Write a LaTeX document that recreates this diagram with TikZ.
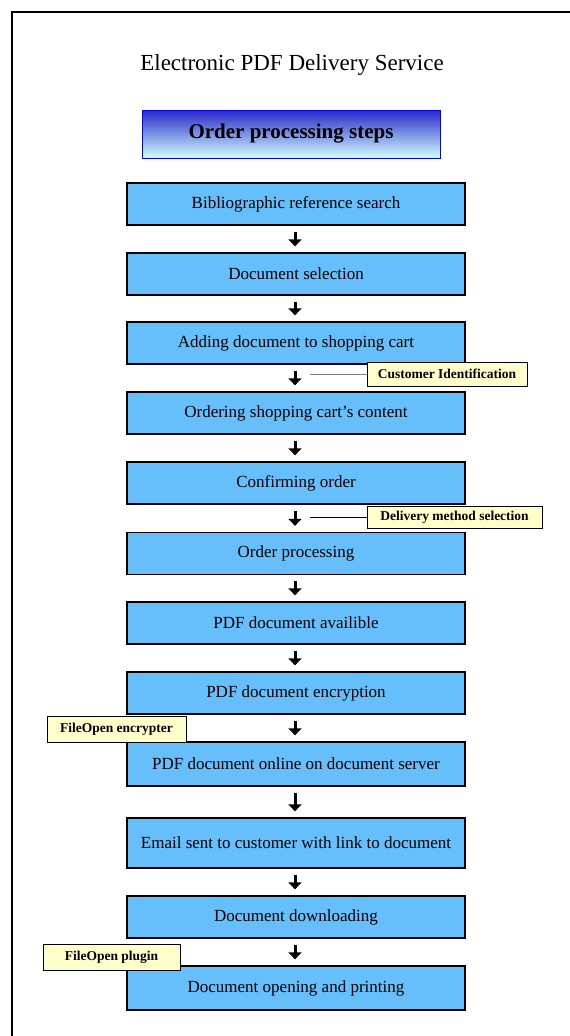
\documentclass[tikz,border=0pt]{standalone}
\usepackage{fontspec}
\setmainfont{Liberation Serif}
\usetikzlibrary{arrows.meta}
\definecolor{stepblue}{RGB}{102,190,250}
\definecolor{noteyellow}{RGB}{255,255,204}
\definecolor{hdrtop}{RGB}{40,40,200}
\definecolor{hdrbot}{RGB}{210,255,255}
\tikzset{
  stepbox/.style={draw=black, line width=1.3pt, fill=stepblue, minimum width=338pt, minimum height=42pt, inner sep=0pt, font=\fontsize{17}{20}\selectfont},
  notebox/.style={draw=black, line width=1pt, fill=noteyellow, inner sep=0pt, font=\fontsize{13.5}{15}\selectfont\bfseries},
  flow/.style={-{Triangle[length=7pt,width=13pt]}, line width=3pt, black, shorten <=6pt, shorten >=6pt},
  link/.style={line width=1pt}
}
\begin{document}
\begin{tikzpicture}[x=1pt,y=-1pt]
\useasboundingbox (0,0) rectangle (570,1036);
\fill[white] (0,0) rectangle (570,1036);
\draw[line width=1.6pt] (12,1036) -- (12,12) -- (570,12);
\node[font=\fontsize{23}{26}\selectfont] (title) at (292,65) {Electronic PDF Delivery Service};
\node[draw=blue, line width=1pt, top color=hdrtop, bottom color=hdrbot, minimum width=298pt, minimum height=48pt, inner sep=0pt, font=\fontsize{21}{24}\selectfont\bfseries] (hdr) at (291,134) {Order processing steps};

\node[stepbox] (s1) at (296,204) {Bibliographic reference search};
\node[stepbox] (s2) at (296,274) {Document selection};
\node[stepbox] (s3) at (296,343) {Adding document to shopping cart};
\node[stepbox] (s4) at (296,413) {Ordering shopping cart's content};
\node[stepbox] (s5) at (296,483) {Confirming order};
\node[stepbox] (s6) at (296,553.5) {Order processing};
\node[stepbox] (s7) at (296,623) {PDF document availible};
\node[stepbox] (s8) at (296,693) {PDF document encryption};
\node[stepbox, minimum height=44pt] (s9) at (296,764) {PDF document online on document server};
\node[stepbox, minimum height=50pt] (s10) at (296,843) {Email sent to customer with link to document};
\node[stepbox] (s11) at (296,917) {Document downloading};
\node[stepbox, minimum height=44pt] (s12) at (296,988) {Document opening and printing};

\foreach \a/\b in {s1/s2,s2/s3,s3/s4,s4/s5,s5/s6,s6/s7,s7/s8,s8/s9,s9/s10,s10/s11,s11/s12}
  \draw[flow] (\a.south -| 295,0) -- (\b.north -| 295,0);

\node[notebox, minimum width=160pt, minimum height=24pt] (ci) at (447,374) {Customer Identification};
\node[notebox, minimum width=175pt, minimum height=22pt] (dm) at (454.5,517) {Delivery method selection};
\node[notebox, minimum width=139pt, minimum height=26pt] (fe) at (116.5,729) {FileOpen encrypter};
\node[notebox, minimum width=137pt, minimum height=26pt] (fp) at (111.5,957) {FileOpen plugin};

\coordinate (c1) at (310,374);
\coordinate (c2) at (310,517);
\draw[link, gray] (c1) -- (ci.west);
\draw[link, black] (c2) -- (dm.west);
\end{tikzpicture}
\end{document}
